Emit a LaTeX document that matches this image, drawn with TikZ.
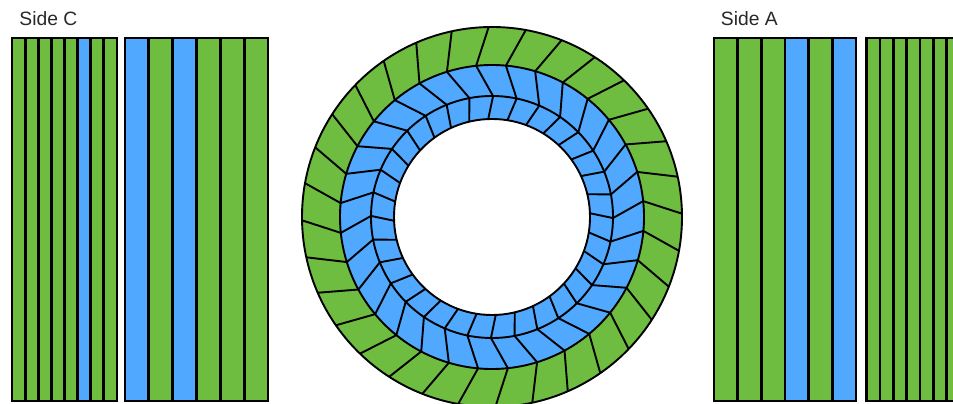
\documentclass[tikz,border=0pt]{standalone}
\usepackage{fontspec}
\setmainfont{Liberation Sans}
\definecolor{grn}{RGB}{110,188,64}
\definecolor{blu}{RGB}{80,168,255}
\definecolor{txt}{RGB}{40,40,40}
\newcommand\mystripes[3]{%
  \foreach \c [count=\i from 0] in {#3}
    \filldraw[stripbox,fill=\c] ({#1+\i*#2},3) rectangle ({#1+(\i+1)*#2},366);
}
\begin{document}
\begin{tikzpicture}[x=1pt,y=1pt,
  stripbox/.style={draw=black,line width=2.9pt},
  ringline/.style={draw=black,line width=1.9pt},
  lbl/.style={anchor=base west,inner sep=0pt,text=txt,font=\fontsize{19.3}{22}\selectfont}]
\useasboundingbox (0,0) rectangle (953,404);
\clip (0,0) rectangle (953,404);
% labels
\node[lbl] (sidec) at (19.3,378) {Side C};
\node[lbl] (sidea) at (720.7,378) {Side A};
% side panels
\mystripes{12}{13.125}{grn,grn,grn,grn,grn,blu,grn,grn}
\mystripes{125}{23.833}{blu,grn,blu,grn,grn,grn}
\mystripes{714}{23.667}{grn,grn,grn,blu,grn,blu}
\mystripes{866.7}{13.33}{grn,grn,grn,grn,grn,grn,grn,grn}
% ring
\coordinate (c) at (492,187);
\fill[grn,even odd rule] (c) circle (190) (c) circle (152);
\fill[blu,even odd rule] (c) circle (152) (c) circle (98);
\foreach \k in {0,...,31} {
  \pgfmathsetmacro\t{1+11.25*\k}
  \draw[ringline,line join=round]
    ([shift={(c)}]\t:190) -- ([shift={(c)}]{\t+5}:152)
    -- ([shift={(c)}]{\t-1.5}:121) -- ([shift={(c)}]{\t+1.2}:98);
}
\draw[ringline] (c) circle (190);
\draw[ringline] (c) circle (152);
\draw[ringline] (c) circle (121);
\draw[ringline] (c) circle (98);
\end{tikzpicture}
\end{document}
